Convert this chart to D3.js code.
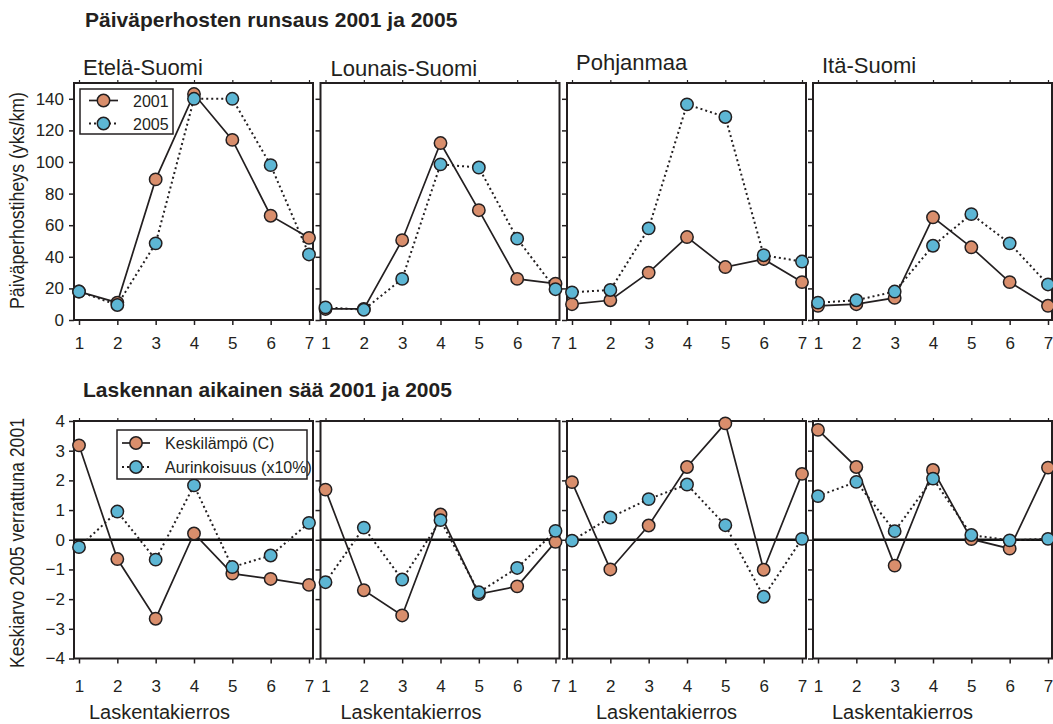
<!DOCTYPE html>
<html>
<head>
<meta charset="utf-8">
<script src="https://cdn.jsdelivr.net/npm/d3@7"></script>
<style>
  html, body { margin: 0; padding: 0; background: #ffffff; }
  svg { display: block; }
  text { fill: #231f20; }
</style>
</head>
<body>
<svg id="chart" width="1053" height="724"></svg>
<script>
// ---------------- data ----------------
const regions = ["Etelä-Suomi", "Lounais-Suomi", "Pohjanmaa", "Itä-Suomi"];
const rounds = [1, 2, 3, 4, 5, 6, 7];
const yTicksTop = [0, 20, 40, 60, 80, 100, 120, 140];
const yTicksBottom = [-4, -3, -2, -1, 0, 1, 2, 3, 4];

// Päiväperhostiheys (yks/km) per region, count rounds 1..7
const abundance2001 = [
  [18, 11, 89, 143, 114, 66, 52],
  [7, 7, 50.5, 112, 69.5, 26, 23],
  [10, 12.5, 30, 52.5, 33.5, 38.5, 24],
  [9, 10, 14, 65, 46, 24, 9]
];
const abundance2005 = [
  [18, 9.5, 48.5, 140, 140, 98, 41.5],
  [8, 6.5, 26, 98.5, 96.5, 51.5, 19.5],
  [17.5, 19, 58, 136.5, 128.5, 41, 37],
  [11, 12.5, 18, 47, 67, 48.5, 22.5]
];
// Keskilämpö (C), 2005 compared with 2001
const temperatureDiff = [
  [3.18, -0.65, -2.66, 0.21, -1.14, -1.32, -1.52],
  [1.69, -1.70, -2.55, 0.85, -1.83, -1.57, -0.07],
  [1.94, -1.0, 0.48, 2.45, 3.92, -1.01, 2.22],
  [3.70, 2.45, -0.87, 2.35, 0.02, -0.30, 2.43]
];
// Aurinkoisuus (x10%), 2005 compared with 2001
const sunshineDiff = [
  [-0.25, 0.95, -0.67, 1.83, -0.92, -0.53, 0.57],
  [-1.43, 0.41, -1.34, 0.66, -1.77, -0.95, 0.30],
  [-0.03, 0.75, 1.37, 1.86, 0.49, -1.92, 0.03],
  [1.47, 1.95, 0.29, 2.06, 0.16, -0.02, 0.03]
];

const legendTop = ["2001", "2005"];
const legendBottom = ["Keskilämpö (C)", "Aurinkoisuus (x10%)"];

// ---------------- layout ----------------
const C_ORANGE = "#d98e6c";
const C_BLUE = "#5db6d4";
const INK = "#231f20";
const narrow = "'Liberation Sans Narrow','Arial Narrow','Liberation Sans',Arial,sans-serif";
const regular = "'Liberation Sans',Arial,Helvetica,sans-serif";

const panelLefts = [74, 320.5, 567, 813];
const panelW = 239;
const topRow = { top: 83, bottom: 320 };
const botRow = { top: 421, bottom: 658.5 };
const titleOffsets = [[9, 75], [10, 76], [9, 70], [9, 73]];
const xlabOffsets = [-34, -29, -20, -30];

const svg = d3.select("#chart");

const yTop = d3.scaleLinear().domain([0, 150]).range([topRow.bottom, topRow.top]);
const yBot = d3.scaleLinear().domain([-4, 4]).range([botRow.bottom, botRow.top]);

// main titles
svg.append("text").attr("x", 85).attr("y", 27)
  .attr("font-family", regular).attr("font-weight", "bold").attr("font-size", 21)
  .text("Päiväperhosten runsaus 2001 ja 2005");
svg.append("text").attr("x", 83).attr("y", 397)
  .attr("font-family", regular).attr("font-weight", "bold").attr("font-size", 21)
  .text("Laskennan aikainen sää 2001 ja 2005");

// y axis titles
svg.append("text")
  .attr("transform", "translate(24," + ((topRow.top + topRow.bottom) / 2 - 1) + ") rotate(-90)")
  .attr("text-anchor", "middle")
  .attr("font-family", regular).attr("font-size", 20)
  .attr("textLength", 217).attr("lengthAdjust", "spacingAndGlyphs")
  .text("Päiväperhostiheys (yks/km)");
svg.append("text")
  .attr("transform", "translate(24," + 543 + ") rotate(-90)")
  .attr("text-anchor", "middle")
  .attr("font-family", regular).attr("font-size", 20)
  .attr("textLength", 250).attr("lengthAdjust", "spacingAndGlyphs")
  .text("Keskiarvo 2005 verrattuna 2001");

function drawPanel(i, row, y, yTicks, s1, s2, isBottom) {
  const L = panelLefts[i];
  const x = d3.scaleLinear().domain([1, 7]).range([L + 5, L + 235]);
  const g = svg.append("g");

  // bottom axis ticks + labels
  const ax = g.append("g").attr("transform", "translate(0," + row.bottom + ")")
    .call(d3.axisBottom(x).tickValues(rounds).tickSize(5)
      .tickPadding(isBottom ? 16 : 12).tickFormat(d3.format("d")));
  ax.select(".domain").remove();
  ax.selectAll("line").attr("stroke", INK).attr("stroke-width", 1.5);
  ax.selectAll("text").attr("font-family", narrow).attr("font-size", 17).attr("fill", INK);

  // top border ticks
  const at = g.append("g").attr("transform", "translate(0," + row.top + ")")
    .call(d3.axisTop(x).tickValues(rounds).tickSize(3).tickFormat(""));
  at.select(".domain").remove();
  at.selectAll("line").attr("stroke", INK).attr("stroke-width", 1.2);

  // left axis ticks (+labels on first panel)
  const ay = g.append("g").attr("transform", "translate(" + L + ",0)")
    .call(d3.axisLeft(y).tickValues(yTicks).tickSize(5).tickPadding(isBottom ? 4 : 5)
      .tickFormat(i === 0 ? d3.format("d") : ""));
  ay.select(".domain").remove();
  ay.selectAll("line").attr("stroke", INK).attr("stroke-width", 1.5);
  ay.selectAll("text").attr("font-family", narrow).attr("font-size", 17).attr("fill", INK);

  // frame
  g.append("rect").attr("x", L).attr("y", row.top)
    .attr("width", panelW).attr("height", row.bottom - row.top)
    .attr("fill", "none").attr("stroke", INK).attr("stroke-width", 2);

  if (isBottom) {
    g.append("line").attr("x1", L).attr("x2", L + panelW)
      .attr("y1", y(0)).attr("y2", y(0))
      .attr("stroke", "#111").attr("stroke-width", 2.6);
  }

  const line = d3.line().x((d, k) => x(rounds[k])).y(d => y(d));
  g.append("path").datum(s1).attr("d", line)
    .attr("fill", "none").attr("stroke", INK).attr("stroke-width", 1.7);
  g.append("path").datum(s2).attr("d", line)
    .attr("fill", "none").attr("stroke", INK).attr("stroke-width", 2)
    .attr("stroke-dasharray", "2,3");

  g.append("g").selectAll("circle").data(s1).join("circle")
    .attr("cx", (d, k) => x(rounds[k])).attr("cy", d => y(d)).attr("r", 6.2)
    .attr("fill", C_ORANGE).attr("stroke", INK).attr("stroke-width", 1.5);
  g.append("g").selectAll("circle").data(s2).join("circle")
    .attr("cx", (d, k) => x(rounds[k])).attr("cy", d => y(d)).attr("r", 6.2)
    .attr("fill", C_BLUE).attr("stroke", INK).attr("stroke-width", 1.5);

  if (!isBottom) {
    svg.append("text").attr("x", L + titleOffsets[i][0]).attr("y", titleOffsets[i][1])
      .attr("font-family", regular).attr("font-size", 22).text(regions[i]);
  } else {
    svg.append("text").attr("x", L + panelW / 2 + xlabOffsets[i]).attr("y", 719)
      .attr("text-anchor", "middle")
      .attr("font-family", regular).attr("font-size", 20).text("Laskentakierros");
  }
}

for (let i = 0; i < regions.length; i++) {
  drawPanel(i, topRow, yTop, yTicksTop, abundance2001[i], abundance2005[i], false);
  drawPanel(i, botRow, yBot, yTicksBottom, temperatureDiff[i], sunshineDiff[i], true);
}

// legends
function legend(x0, y0, w, h, lineX1, lineX2, textX, ys, labels) {
  const g = svg.append("g");
  g.append("rect").attr("x", x0).attr("y", y0).attr("width", w).attr("height", h)
    .attr("fill", "#fff").attr("stroke", INK).attr("stroke-width", 1.5);
  labels.forEach((lab, k) => {
    const cx = (lineX1 + lineX2) / 2;
    g.append("line").attr("x1", lineX1).attr("x2", lineX2).attr("y1", ys[k]).attr("y2", ys[k])
      .attr("stroke", INK).attr("stroke-width", k === 0 ? 1.7 : 2)
      .attr("stroke-dasharray", k === 0 ? null : "2,3");
    g.append("circle").attr("cx", cx).attr("cy", ys[k]).attr("r", 6.2)
      .attr("fill", k === 0 ? C_ORANGE : C_BLUE).attr("stroke", INK).attr("stroke-width", 1.5);
    g.append("text").attr("x", textX).attr("y", ys[k] + 6)
      .attr("font-family", regular).attr("font-size", 16).text(lab);
  });
}
legend(80, 89, 93, 45, 89, 118, 133, [100.5, 123.5], legendTop);
legend(117, 430, 190, 49, 122, 150, 165, [443, 467], legendBottom);
</script>
</body>
</html>
